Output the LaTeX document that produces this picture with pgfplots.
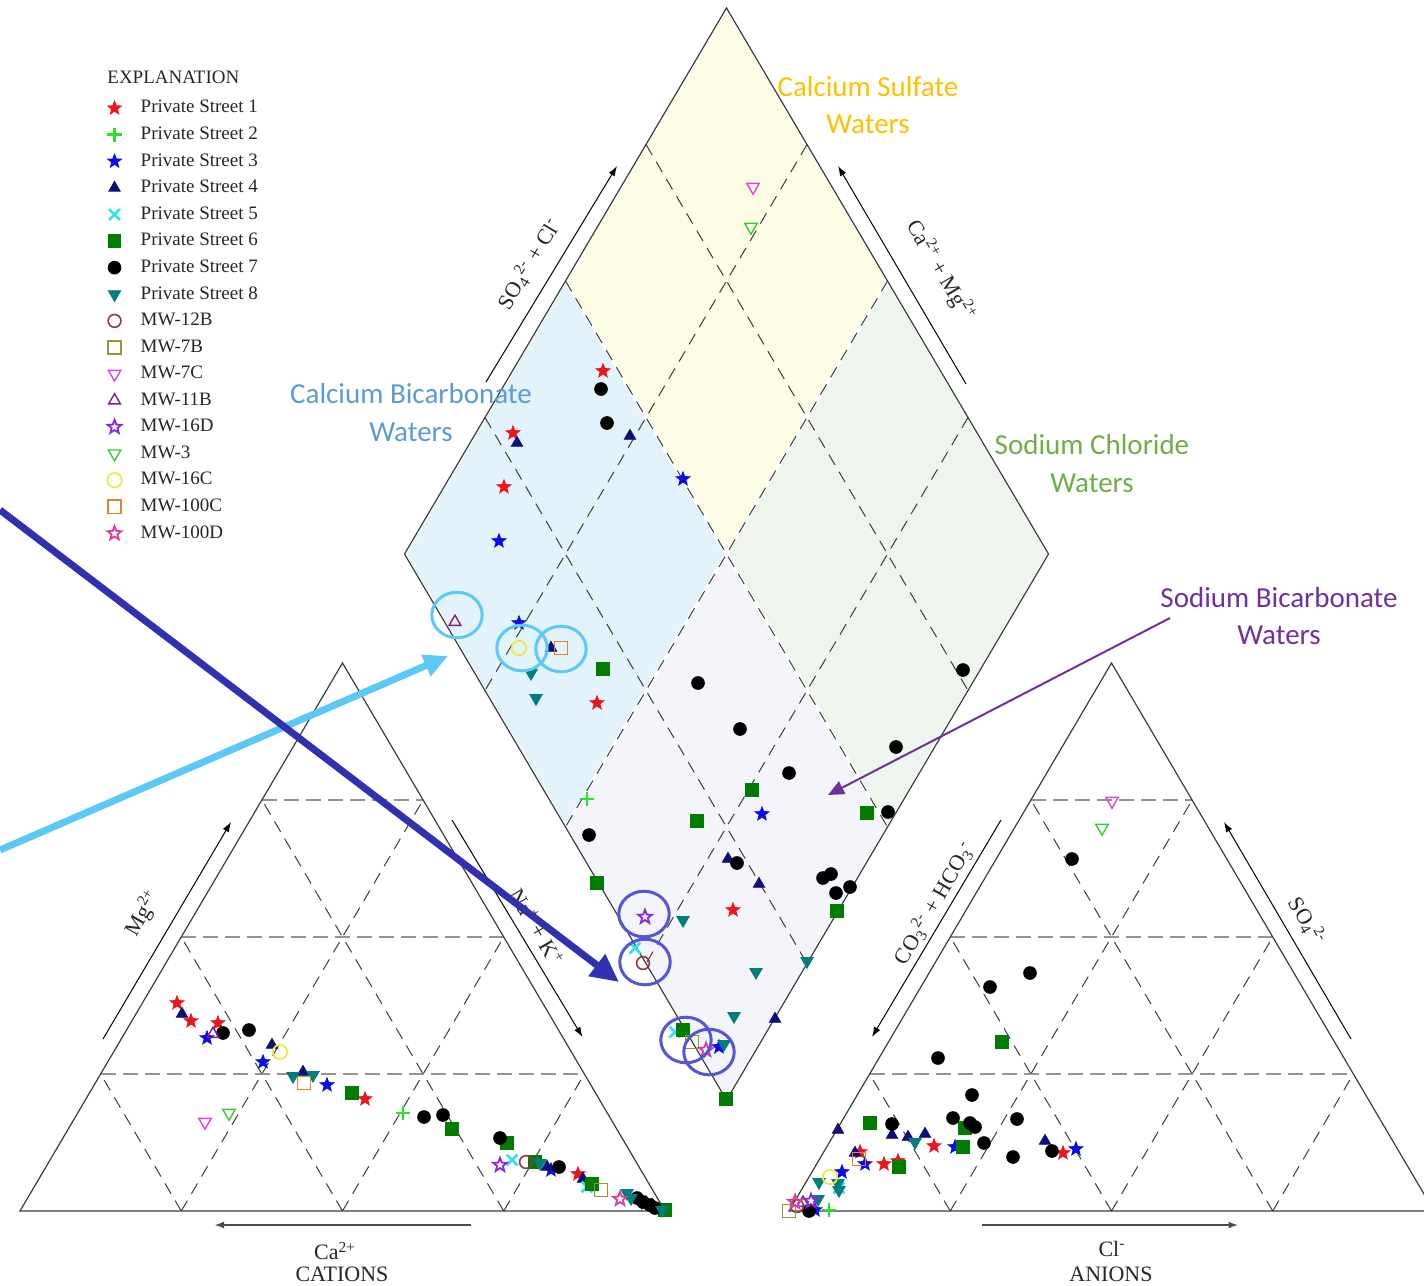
\documentclass[border=0pt]{standalone}
\usepackage{fontspec}
\setmainfont{Liberation Serif}
\newfontfamily\calibri{Carlito}
\usepackage{pgfplots}
\pgfplotsset{compat=1.18}
\usetikzlibrary{arrows.meta}

% filled and open five-pointed stars
\pgfdeclareplotmark{fstar}{%
  \pgfpathmoveto{\pgfpointpolar{90}{\pgfplotmarksize}}%
  \pgfpathlineto{\pgfpointpolar{126}{0.42\pgfplotmarksize}}%
  \pgfpathlineto{\pgfpointpolar{162}{\pgfplotmarksize}}%
  \pgfpathlineto{\pgfpointpolar{198}{0.42\pgfplotmarksize}}%
  \pgfpathlineto{\pgfpointpolar{234}{\pgfplotmarksize}}%
  \pgfpathlineto{\pgfpointpolar{270}{0.42\pgfplotmarksize}}%
  \pgfpathlineto{\pgfpointpolar{306}{\pgfplotmarksize}}%
  \pgfpathlineto{\pgfpointpolar{342}{0.42\pgfplotmarksize}}%
  \pgfpathlineto{\pgfpointpolar{18}{\pgfplotmarksize}}%
  \pgfpathlineto{\pgfpointpolar{54}{0.42\pgfplotmarksize}}%
  \pgfpathclose
  \pgfusepathqfillstroke}
\pgfdeclareplotmark{ostar}{%
  \pgfpathmoveto{\pgfpointpolar{90}{\pgfplotmarksize}}%
  \pgfpathlineto{\pgfpointpolar{126}{0.42\pgfplotmarksize}}%
  \pgfpathlineto{\pgfpointpolar{162}{\pgfplotmarksize}}%
  \pgfpathlineto{\pgfpointpolar{198}{0.42\pgfplotmarksize}}%
  \pgfpathlineto{\pgfpointpolar{234}{\pgfplotmarksize}}%
  \pgfpathlineto{\pgfpointpolar{270}{0.42\pgfplotmarksize}}%
  \pgfpathlineto{\pgfpointpolar{306}{\pgfplotmarksize}}%
  \pgfpathlineto{\pgfpointpolar{342}{0.42\pgfplotmarksize}}%
  \pgfpathlineto{\pgfpointpolar{18}{\pgfplotmarksize}}%
  \pgfpathlineto{\pgfpointpolar{54}{0.42\pgfplotmarksize}}%
  \pgfpathclose
  \pgfusepathqstroke}

\definecolor{psred}{RGB}{238,20,30}
\definecolor{psgreenplus}{RGB}{40,225,40}
\definecolor{psblue}{RGB}{10,10,235}
\definecolor{psnavy}{RGB}{15,15,120}
\definecolor{pscyan}{RGB}{50,225,240}
\definecolor{psgreen}{RGB}{0,125,0}
\definecolor{psteal}{RGB}{0,125,125}
\definecolor{mwbrown}{RGB}{140,60,60}
\definecolor{mwolive}{RGB}{150,150,50}
\definecolor{mwmagenta}{RGB}{220,70,220}
\definecolor{mwpurple}{RGB}{128,30,128}
\definecolor{mwviolet}{RGB}{140,40,220}
\definecolor{mwgreen}{RGB}{60,200,60}
\definecolor{mwyellow}{RGB}{235,235,70}
\definecolor{mworange}{RGB}{225,130,45}
\definecolor{mwpink}{RGB}{220,60,160}
\definecolor{fillyellow}{RGB}{253,253,230}
\definecolor{fillblue}{RGB}{226,243,251}
\definecolor{fillgreen}{RGB}{237,245,236}
\definecolor{filllav}{RGB}{244,244,251}
\definecolor{txtorange}{RGB}{255,192,0}
\definecolor{txtblue}{RGB}{91,155,213}
\definecolor{txtgreen}{RGB}{112,173,71}
\definecolor{txtpurple}{RGB}{112,48,160}
\definecolor{arrowdark}{RGB}{48,48,176}
\definecolor{arrowlight}{RGB}{91,200,245}
\definecolor{ringdark}{RGB}{85,85,215}
\definecolor{framegray}{RGB}{60,60,60}

\tikzset{
  frame/.style={framegray, line width=0.6pt, line join=miter},
  hgrid/.style={gray!85, line width=1.1pt, dash pattern=on 7.5pt off 3.5pt},
  dgrid/.style={framegray, line width=0.5pt, dash pattern=on 6pt off 4pt},
  sidearrow/.style={black, line width=0.5pt, -{Latex[length=5pt,width=3.5pt]}},
  basearrow/.style={gray!60!black, line width=1pt, -{Latex[length=5pt,width=3.5pt]}},
  lbl/.style={font=\fontsize{11}{13}\selectfont, text=black!85, inner sep=0pt},
  water/.style={font=\calibri\fontsize{14.5}{18}\selectfont, inner sep=0pt},
}

\pgfplotsset{
  sym/.style={only marks, mark options={solid, line width=0.5pt}},
}

\begin{document}
\begin{tikzpicture}
\begin{axis}[
  x=0.5pt, y=0.5pt, y dir=reverse,
  xmin=0, xmax=1424, ymin=0, ymax=1285,
  axis lines=none,
  legend cell align=left,
  legend style={at={(axis description cs:0.0751,0.9253)}, anchor=north west,
    draw=none, fill=none, inner sep=0pt, column sep=7.5pt, row sep=1.5pt,
    font=\fontsize{9.5}{11}\selectfont, text=black!85},
]
% ---- diamond quadrant fills
\filldraw[fill=fillyellow, draw=white, line width=1.5pt] (726.5,8) -- (887.5,281) -- (726.5,554) -- (565.5,281) -- cycle;
\filldraw[fill=fillblue, draw=white, line width=1.5pt] (565.5,281) -- (726.5,554) -- (565.5,827) -- (404.5,554) -- cycle;
\filldraw[fill=fillgreen, draw=white, line width=1.5pt] (887.5,281) -- (1048.5,554) -- (887.5,827) -- (726.5,554) -- cycle;
\filldraw[fill=filllav, draw=white, line width=1.5pt] (726.5,554) -- (887.5,827) -- (726.5,1100) -- (565.5,827) -- cycle;

% ---- diamond grid
\draw[dgrid] (807,144.5) -- (485,690.5) (887.5,281) -- (565.5,827) (968,417.5) -- (646,963.5);
\draw[dgrid] (646,144.5) -- (968,690.5) (565.5,281) -- (887.5,827) (485,417.5) -- (807,963.5);
\draw[frame] (726.5,8) -- (1048.5,554) -- (726.5,1100) -- (404.5,554) -- cycle;

% ---- cation triangle
\draw[hgrid] (100.6,1074) -- (584.4,1074) (181.25,937) -- (503.75,937) (261.9,800) -- (423.1,800);
\draw[dgrid] (181.25,1211) -- (423.1,800) (342.5,1211) -- (503.75,937) (503.75,1211) -- (584.4,1074)
  (503.75,1211) -- (261.9,800) (342.5,1211) -- (181.25,937) (181.25,1211) -- (100.6,1074);
\draw[frame] (20,1211) -- (665,1211) -- (342.5,663) -- cycle;

% ---- anion triangle
\draw[hgrid] (869.6,1074) -- (1353.4,1074) (950.25,937) -- (1272.75,937) (1030.9,800) -- (1192.1,800);
\draw[dgrid] (950.25,1211) -- (1192.1,800) (1111.5,1211) -- (1272.75,937) (1272.75,1211) -- (1353.4,1074)
  (1272.75,1211) -- (1030.9,800) (1111.5,1211) -- (950.25,937) (950.25,1211) -- (869.6,1074);
\draw[frame] (789,1211) -- (1434,1211) -- (1111.5,663) -- cycle;

% ---- direction arrows beside the sides
\draw[sidearrow] (103,1039) -- (231,822);
\draw[sidearrow] (452,820) -- (582.5,1037);
\draw[basearrow] (471,1225) -- (214,1225);
\draw[sidearrow] (1001,820) -- (872,1037);
\draw[sidearrow] (1351,1039) -- (1224,822);
\draw[basearrow] (982,1225) -- (1238.5,1225);
\draw[sidearrow] (486,382) -- (617,166);
\draw[sidearrow] (966,384) -- (838,166);

% ---- axis labels
\node[lbl, rotate=60] at (143,913) {Mg\textsuperscript{2+}};
\node[lbl, rotate=-60] at (537,927) {Na\textsuperscript{+} + K\textsuperscript{+}};
\node[lbl] at (335,1251) {Ca\textsuperscript{2+}};
\node[lbl] at (342,1274) {CATIONS};
\node[lbl, rotate=60] at (934,903) {CO\textsubscript{3}\textsuperscript{2-} + HCO\textsubscript{3}\textsuperscript{-}};
\node[lbl, rotate=-60] at (1307,921) {SO\textsubscript{4}\textsuperscript{2-}};
\node[lbl] at (1112,1249) {Cl\textsuperscript{-}};
\node[lbl] at (1111,1274) {ANIONS};
\node[lbl, rotate=59] at (529,264) {SO\textsubscript{4}\textsuperscript{2-} + Cl\textsuperscript{-}};
\node[lbl, rotate=-59] at (941,271) {Ca\textsuperscript{2+} + Mg\textsuperscript{2+}};

% ---- water type labels
\node[water, text=txtorange] at (868,87) {Calcium Sulfate};
\node[water, text=txtorange] at (868,124) {Waters};
\node[water, text=txtblue] at (411,394) {Calcium Bicarbonate};
\node[water, text=txtblue] at (411,432) {Waters};
\node[water, text=txtgreen] at (1092,445) {Sodium Chloride};
\node[water, text=txtgreen] at (1092,483) {Waters};
\node[water, text=txtpurple] at (1279,598) {Sodium Bicarbonate};
\node[water, text=txtpurple] at (1279,635) {Waters};

\node[anchor=west, inner sep=0pt, font=\fontsize{9.5}{11}\selectfont, text=black!85] at (107,77) {EXPLANATION};

% ---- samples (cation triangle, anion triangle, diamond)
\addplot[sym, mark=fstar, mark size=3.6pt, color=psred, mark options={fill=psred}] coordinates {
 (177,1003) (191,1021) (218,1023) (365,1099) (578,1174)
 (934,1146) (860,1152) (884,1164) (898,1161) (1063,1153)
 (603,371) (513,433) (504,487) (597,703) (733,910)};
\addlegendentry{Private Street 1}
\addplot[sym, mark=+, mark size=3.6pt, color=psgreenplus, mark options={line width=1.3pt}] coordinates {
 (403,1113) (829,1210) (587,799)};
\addlegendentry{Private Street 2}
\addplot[sym, mark=fstar, mark size=3.6pt, color=psblue, mark options={fill=psblue}] coordinates {
 (207,1038) (263,1062) (327,1085) (551,1170) (646,1203)
 (1076,1149) (955,1147) (865,1164) (842,1172) (815,1210)
 (683,479) (499,541) (519,623) (762,814) (719,1047)};
\addlegendentry{Private Street 3}
\addplot[sym, mark=triangle*, mark size=3.3pt, color=psnavy, mark options={fill=psnavy}] coordinates {
 (182,1014) (272,1045) (303,1072) (547,1167) (583,1179) (652,1205)
 (838,1130) (892,1135) (908,1137) (925,1134) (1045,1141) (855,1153)
 (517,443) (630,436) (551,648) (728,859) (759,884) (775,1019)};
\addlegendentry{Private Street 4}
\addplot[sym, mark=x, mark size=3.8pt, color=pscyan, mark options={line width=1.3pt}] coordinates {
 (512,1160) (587,1187)
 (809,1210) (839,1188)
 (635,948) (675,1032)};
\addlegendentry{Private Street 5}
\addplot[sym, mark=square*, mark size=3.1pt, color=psgreen, mark options={fill=psgreen}] coordinates {
 (352,1093) (452,1129) (507,1143) (535,1162) (592,1184) (665,1210)
 (1002,1042) (870,1123) (965,1128) (963,1147) (899,1167)
 (603,669) (752,790) (697,821) (597,883) (837,911) (867,813) (683,1030) (726,1099)};
\addlegendentry{Private Street 6}
\addplot[sym, mark=*, mark size=3.2pt, color=black, mark options={fill=black}] coordinates {
 (223,1033) (249,1030) (424,1117) (443,1115) (500,1138) (559,1167) (637,1198) (643,1202) (650,1205) (655,1208)
 (1030,973) (990,987) (938,1058) (972,1095) (953,1118) (970,1123) (975,1127) (984,1143) (1017,1119) (1013,1157)
 (1052,1151) (892,1124) (809,1211) (1072,859)
 (601,389) (607,423) (698,683) (740,729) (789,773) (589,835) (737,863) (823,878) (831,874) (836,893)
 (850,887) (888,812) (896,747) (963,670)};
\addlegendentry{Private Street 7}
\addplot[sym, mark=triangle*, mark size=3.6pt, color=psteal, mark options={fill=psteal, rotate=180}] coordinates {
 (293,1076) (313,1075) (540,1163) (627,1193) (631,1198) (662,1210)
 (915,1142) (819,1182) (839,1190) (838,1183) (818,1199)
 (531,673) (536,698) (683,920) (756,972) (807,961) (734,1016) (724,1044)};
\addlegendentry{Private Street 8}
\addplot[sym, mark=o, mark size=3.2pt, color=mwbrown, mark options={line width=0.8pt}] coordinates {
 (526,1162) (797,1206) (643,963)};
\addlegendentry{MW-12B}
\addplot[sym, mark=square, mark size=3.3pt, color=mwolive, mark options={line width=0.8pt}] coordinates {
 (601,1190) (789,1211) (692,1042)};
\addlegendentry{MW-7B}
\addplot[sym, mark=triangle, mark size=3.6pt, color=mwmagenta, mark options={line width=0.7pt, rotate=180}] coordinates {
 (205,1122) (1112,801) (753,187)};
\addlegendentry{MW-7C}
\addplot[sym, mark=triangle, mark size=3.4pt, color=mwpurple, mark options={line width=0.7pt}] coordinates {
 (213,1034) (803,1203) (455,622)};
\addlegendentry{MW-11B}
\addplot[sym, mark=ostar, mark size=3.6pt, color=mwviolet, mark options={line width=0.9pt}] coordinates {
 (500,1165) (811,1201) (645,917)};
\addlegendentry{MW-16D}
\addplot[sym, mark=triangle, mark size=3.6pt, color=mwgreen, mark options={line width=0.7pt, rotate=180}] coordinates {
 (229,1113) (1102,828) (751,227)};
\addlegendentry{MW-3}
\addplot[sym, mark=o, mark size=3.6pt, color=mwyellow, mark options={line width=0.9pt}] coordinates {
 (280,1052) (830,1177) (519,648)};
\addlegendentry{MW-16C}
\addplot[sym, mark=square, mark size=3.3pt, color=mworange, mark options={line width=0.8pt}] coordinates {
 (304,1083) (859,1159) (561,648)};
\addlegendentry{MW-100C}
\addplot[sym, mark=ostar, mark size=3.6pt, color=mwpink, mark options={line width=0.9pt}] coordinates {
 (620,1199) (795,1202) (706,1050)};
\addlegendentry{MW-100D}

% ---- highlighted samples and pointers
\addplot[forget plot, only marks, mark=o, mark size=12pt, color=arrowlight, mark options={line width=1.5pt, xscale=1.05, yscale=0.95}] coordinates {
 (457,615) (522,648) (561,649)};
\addplot[forget plot, only marks, mark=o, mark size=12pt, color=ringdark, mark options={line width=1.5pt, xscale=1.05, yscale=0.95}] coordinates {
 (644,914) (645,962) (686,1040) (709,1052)};
\addplot[forget plot, no marks, arrowlight, line width=3.5pt, -{Triangle[length=12pt,width=11pt]}] coordinates {
 (0,850) (448,656)};
\addplot[forget plot, no marks, arrowdark, line width=3.5pt, -{Triangle[length=14pt,width=13pt]}] coordinates {
 (0,510) (619,982)};
\addplot[forget plot, no marks, txtpurple, line width=1pt, -{Triangle[length=8pt,width=7pt]}] coordinates {
 (1170,618) (828,795)};
\end{axis}
\pgfresetboundingbox
\path[use as bounding box] (current axis.south west) rectangle (current axis.north east);
\end{tikzpicture}
\end{document}
